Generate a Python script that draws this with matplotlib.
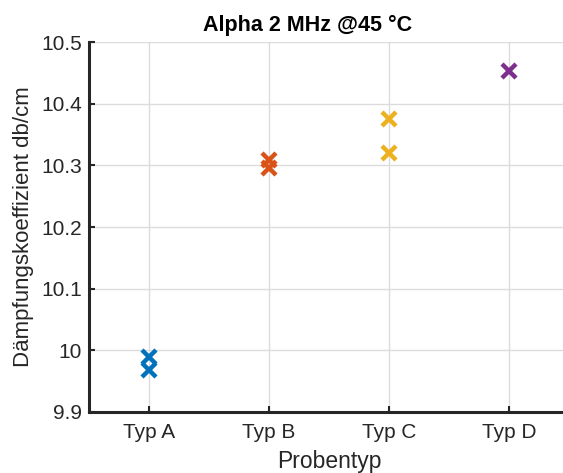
import matplotlib
matplotlib.use("Agg")
import matplotlib.pyplot as plt

# Daten
typen = ["Typ A", "Typ B", "Typ C", "Typ D"]
werte_a = [9.990, 9.968]
werte_b = [10.308, 10.296]
werte_c = [10.375, 10.320]
werte_d = [10.453]
farben = ["#0072BD", "#D95319", "#EDB120", "#7E2F8E"]
y_ticks = [9.9, 10.0, 10.1, 10.2, 10.3, 10.4, 10.5]
y_tick_labels = ["9.9", "10", "10.1", "10.2", "10.3", "10.4", "10.5"]

plt.rcParams["font.family"] = ["Liberation Sans", "DejaVu Sans"]

fig = plt.figure(figsize=(5.63, 4.73), dpi=100)
ax = fig.add_axes([0.158, 0.129, 0.853, 0.782])

for i, werte in enumerate([werte_a, werte_b, werte_c, werte_d]):
    ax.plot([i + 1] * len(werte), werte, linestyle="none", marker="x",
            markersize=10, markeredgewidth=3.2, color=farben[i], zorder=3)

ax.set_xlim(0.5, 4.5)
ax.set_ylim(9.9, 10.5)
ax.set_xticks(range(1, len(typen) + 1))
ax.set_xticklabels(typen)
ax.set_yticks(y_ticks)
ax.set_yticklabels(y_tick_labels)

ax.grid(True, color="#dcdcdc", linewidth=1)
ax.set_axisbelow(True)
ax.spines["top"].set_visible(False)
ax.spines["right"].set_visible(False)
for s in ["left", "bottom"]:
    ax.spines[s].set_linewidth(2.2)
    ax.spines[s].set_color("#262626")
ax.tick_params(direction="in", length=4, width=1.5, color="#262626",
               labelsize=15, labelcolor="#262626", pad=5)
ax.tick_params(axis="x", pad=8)

ax.set_xlabel("Probentyp", fontsize=16.5, color="#262626", labelpad=6)
ax.set_ylabel("Dämpfungskoeffizient db/cm", fontsize=16, color="#262626", labelpad=5)
ax.set_title("Alpha 2 MHz @45 °C", fontsize=15.5, fontweight="bold", pad=8, x=0.455)

fig.savefig("out.png", dpi=100)
